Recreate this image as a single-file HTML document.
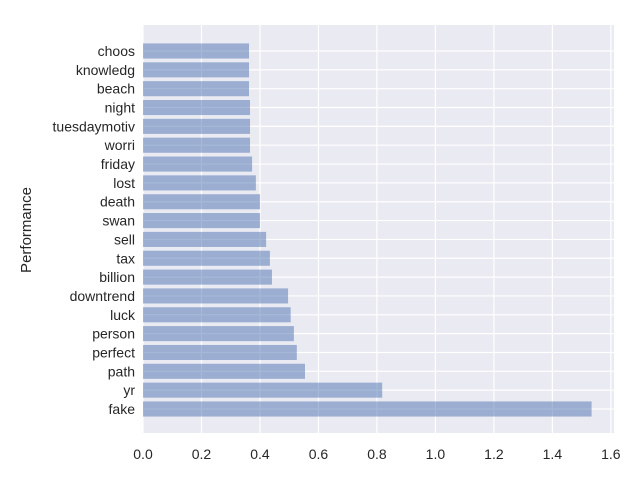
<!DOCTYPE html>
<html><head><meta charset="utf-8"><style>
body{margin:0;background:#fff;}
svg{font-family:"Liberation Sans","DejaVu Sans",sans-serif;}
</style></head><body>
<svg id="chart" width="640" height="480">
<rect x="143" y="25" width="471" height="408" fill="#EAEAF2"/>
<g id="grid"></g><g id="bars"></g><g id="ylabels"></g><g id="xlabels"></g>
<text x="31" y="230" font-size="15" fill="#262626" text-anchor="middle" transform="rotate(-90 31 230)">Performance</text>
</svg>
<script>
const categories=["fake","yr","path","perfect","person","luck","downtrend","billion","tax","sell","swan","death","lost","friday","worri","tuesdaymotiv","night","beach","knowledg","choos"];
const values=[1.534,0.818,0.554,0.526,0.516,0.505,0.496,0.441,0.434,0.421,0.400,0.400,0.386,0.373,0.366,0.366,0.366,0.3625,0.3625,0.3625];
const xTicks=[0,0.2,0.4,0.6,0.8,1.0,1.2,1.4,1.6];
const xTickLabels=["0.0","0.2","0.4","0.6","0.8","1.0","1.2","1.4","1.6"];
const NS="http://www.w3.org/2000/svg";
const xmax=Math.max(...values)*1.05;
function xs(v){return 143+v/xmax*471;}
function ys(i){return 409-i*(358/(categories.length-1));}
const step=358/(categories.length-1);
function mk(t,a,p){const e=document.createElementNS(NS,t);for(const k in a)e.setAttribute(k,a[k]);p.appendChild(e);return e;}
const g=document.getElementById('grid'),b=document.getElementById('bars'),yl=document.getElementById('ylabels'),xl=document.getElementById('xlabels');
xTicks.forEach((v,k)=>{
 const l=mk('line',{x1:xs(v),x2:xs(v),y1:25,y2:433,stroke:'#fff','stroke-width':1.2},g);
 
 
 const t=mk('text',{x:xs(v),y:459,'font-size':14,fill:'#262626','text-anchor':'middle'},xl);
 t.textContent=xTickLabels[k];
 
 
});
categories.forEach((c,i)=>{
 const y=ys(i);
 const l=mk('line',{x1:143,x2:614,y1:y,y2:y,stroke:'#fff','stroke-width':1.2},g);
 
 
 const r=mk('rect',{x:xs(0),y:y-step*0.4,width:xs(values[i])-xs(0),height:step*0.8,fill:'#4C72B0','fill-opacity':0.5},b);
 
 
 const t=mk('text',{x:135,y:y+5,'font-size':14,fill:'#262626','text-anchor':'end'},yl);
 t.textContent=c;
 
 
});
</script>
</body></html>
